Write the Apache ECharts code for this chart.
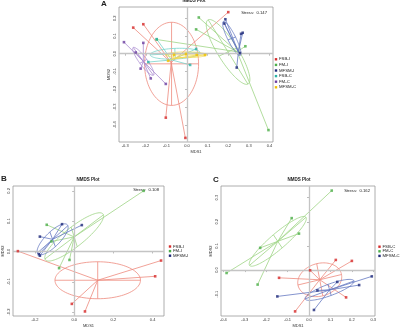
<!DOCTYPE html>
<html><head><meta charset="utf-8">
<script src="https://cdn.jsdelivr.net/npm/echarts@6/dist/echarts.min.js"></script>
<style>html,body{margin:0;padding:0;background:#fff}#c{width:401px;height:329px}</style>
</head><body><div id="c"></div>
<script>
// ---------- Panel A (MDS1, MDS2 scores) ----------
const aFSB_I  = [[-0.261,0.147],[-0.212,0.166],[0.200,0.234],[-0.103,-0.360],[-0.008,-0.474]];
const aFM_I   = [[0.057,0.204],[0.044,0.137],[0.283,0.042],[0.395,-0.430],[-0.147,0.080]];
const aMFSM_I = [[0.186,0.194],[0.181,0.170],[0.270,0.118],[0.257,0.004],[0.241,-0.078],[0.262,0.112]];
const aFSB_C  = [[-0.147,0.082],[-0.188,-0.047],[0.015,-0.063],[0.044,0.027]];
const aFM_C   = [[-0.306,0.065],[-0.249,0.007],[-0.212,0.061],[-0.225,-0.084],[-0.176,-0.139],[-0.103,-0.170]];
const aMFSM_C = [[-0.063,-0.006],[-0.005,-0.002],[0.047,-0.007],[0.087,-0.007],[-0.092,-0.040]];
// spider hubs (group centres)
const aHubFSB_I=[-0.077,-0.050], aHubFM_I=[0.243,0.011], aHubMFSM_I=[0.249,0.010],
      aHubFSB_C=[-0.075,-0.035], aHubFM_C=[-0.212,-0.043], aHubMFSM_C=[-0.070,-0.030];
// ellipse: [centre x, centre y, semi-axis 1, semi-axis 2, angle in degrees]
const aEllFSB_I  = [-0.075,-0.057,0.131,0.234,0];
const aEllFM_I   = [0.199,0.010,0.205,0.050,-62];
const aEllMFSM_I = [0.217,0.086,0.104,0.020,-67];
const aEllFSB_C  = [-0.058,0.000,0.121,0.030,3];
const aEllFM_C   = [-0.212,-0.043,0.092,0.020,-58];
const aEllMFSM_C = [-0.005,-0.006,0.100,0.016,0];
const aXTicks = [-0.3,-0.2,-0.1,0,0.1,0.2,0.3,0.4];
const aYTicks = [-0.4,-0.3,-0.2,-0.1,0,0.1,0.2];
const aStress = 'Stress:  0.147';

// ---------- Panel B ----------
const bFSB_I  = [[-0.287,0.001],[0.443,-0.030],[0.413,-0.082],[-0.012,-0.173],[0.055,-0.198]];
const bFM_I   = [[-0.140,0.088],[-0.024,-0.028],[-0.077,-0.055],[0.354,0.200],[-0.116,0.033]];
const bMFSM_I = [[-0.175,0.049],[-0.180,-0.009],[-0.175,-0.014],[-0.062,0.090],[0.039,0.087]];
const bHubFSB_I=[0.120,-0.095], bHubFM_I=[0.000,0.048], bHubMFSM_I=[-0.110,0.040];
const bEllFSB_I  = [0.120,-0.095,0.218,0.061,0];
const bEllFM_I   = [0.000,0.048,0.166,0.036,26];
const bEllMFSM_I = [-0.110,0.040,0.090,0.028,30];
const bXTicks = [-0.2,0,0.2,0.4];
const bYTicks = [-0.2,-0.1,0,0.1,0.2];
const bStress = 'Stress:  0.108';

// ---------- Panel C ----------
const cFSB_C  = [[-0.140,-0.032],[0.005,-0.001],[0.125,0.042],[0.200,0.038],[0.173,-0.113],[-0.065,-0.171]];
const cFM_C   = [[0.106,0.329],[-0.081,0.215],[-0.047,0.151],[-0.228,0.092],[-0.385,-0.012],[-0.240,-0.060]];
const cMFSM_C = [[-0.148,-0.109],[0.023,-0.165],[0.039,-0.084],[0.132,-0.049],[0.234,-0.062],[0.293,-0.026]];
const cHubFSB_C=[0.050,-0.040], cHubFM_C=[-0.146,0.119], cHubMFSM_C=[0.096,-0.082];
const cEllFSB_C  = [0.050,-0.040,0.104,0.068,12];
const cEllFM_C   = [-0.146,0.119,0.165,0.034,37];
const cEllMFSM_C = [0.096,-0.082,0.120,0.024,18];
const cXTicks = [-0.4,-0.3,-0.2,-0.1,0,0.1,0.2,0.3];
const cYTicks = [-0.1,0,0.1,0.2,0.3];
const cStress = 'Stress:  0.162';

// colours
const RED={pt:'#D62B2B',ln:'#EE8A7E'}, GRN={pt:'#4DAF4A',ln:'#9ED485'}, NAVY={pt:'#1F2A7A',ln:'#6478C2'},
      TEAL={pt:'#2AB3A6',ln:'#76D3CA'}, PURP={pt:'#6B3FA0',ln:'#A98BD0'}, YEL={pt:'#EFC000',ln:'#F3D955'};

const panels = [
  {grid:{left:119,top:7,width:154,height:135}, xr:[-0.33,0.417], yr:[-0.497,0.263], xt:aXTicks, yt:aYTicks,
   groups:[
    {name:'FSB-I',pts:aFSB_I,hub:aHubFSB_I,ell:aEllFSB_I,c:RED},
    {name:'FM-I',pts:aFM_I,hub:aHubFM_I,ell:aEllFM_I,c:GRN},
    {name:'MFSM-I',pts:aMFSM_I,hub:aHubMFSM_I,ell:aEllMFSM_I,c:NAVY},
    {name:'FSB-C',pts:aFSB_C,hub:aHubFSB_C,ell:aEllFSB_C,c:TEAL},
    {name:'FM-C',pts:aFM_C,hub:aHubFM_C,ell:aEllFM_C,c:PURP},
    {name:'MFSM-C',pts:aMFSM_C,hub:aHubMFSM_C,ell:aEllMFSM_C,c:YEL}]},
  {grid:{left:11,top:186,width:153,height:133}, xr:[-0.312,0.458], yr:[-0.213,0.216], xt:bXTicks, yt:bYTicks,
   groups:[
    {name:'FSB-I',pts:bFSB_I,hub:bHubFSB_I,ell:bEllFSB_I,c:RED},
    {name:'FM-I',pts:bFM_I,hub:bHubFM_I,ell:bEllFM_I,c:GRN},
    {name:'MFSM-I',pts:bMFSM_I,hub:bHubMFSM_I,ell:bEllMFSM_I,c:NAVY}]},
  {grid:{left:221,top:186,width:154,height:133}, xr:[-0.411,0.308], yr:[-0.190,0.348], xt:cXTicks, yt:cYTicks,
   groups:[
    {name:'FSB-C',pts:cFSB_C,hub:cHubFSB_C,ell:cEllFSB_C,c:RED},
    {name:'FM-C',pts:cFM_C,hub:cHubFM_C,ell:cEllFM_C,c:GRN},
    {name:'MFSM-C',pts:cMFSM_C,hub:cHubMFSM_C,ell:cEllMFSM_C,c:NAVY}]}
];

const fmt = v => (Math.abs(v)<1e-9?0:v).toFixed(1);
const txt = '#333';

const grids=[],xAxes=[],yAxes=[],series=[];
panels.forEach((P,gi)=>{
  grids.push(Object.assign({show:true,borderColor:'#9a9a9a',borderWidth:0.8,backgroundColor:'transparent'},P.grid));
  xAxes.push({gridIndex:gi,type:'value',min:P.xr[0],max:P.xr[1],
    axisLine:{show:false},splitLine:{show:false},
    axisTick:{show:true,length:2,inside:false,lineStyle:{color:'#777',width:0.5},customValues:P.xt},
    axisLabel:{customValues:P.xt,fontSize:4,color:txt,margin:2,formatter:fmt},
    name:'MDS1',nameLocation:'middle',nameGap:8,nameTextStyle:{fontSize:4,color:txt}});
  yAxes.push({gridIndex:gi,type:'value',min:P.yr[0],max:P.yr[1],
    axisLine:{show:false},splitLine:{show:false},
    axisTick:{show:true,length:2,inside:false,lineStyle:{color:'#777',width:0.5},customValues:P.yt},
    axisLabel:{customValues:P.yt,fontSize:4,color:txt,margin:2,rotate:90,formatter:fmt},
    name:'MDS2',nameLocation:'middle',nameGap:8,nameRotate:90,nameTextStyle:{fontSize:4,color:txt}});
  // zero reference lines
  series.push({type:'scatter',xAxisIndex:gi,yAxisIndex:gi,data:[],silent:true,
    markLine:{silent:true,symbol:'none',animation:false,label:{show:false},
      lineStyle:{color:'#c4c4c4',width:1.3,type:'solid'},data:[{xAxis:0},{yAxis:0}]}});
  P.groups.forEach(g=>{
    const h=g.hub;
    series.push({type:'custom',name:g.name,xAxisIndex:gi,yAxisIndex:gi,silent:true,z:3,animation:false,
      data:[h],encode:{x:0,y:1},
      renderItem:(params,api)=>{
        const cp=api.coord(h);
        const ch=[];
        const st={stroke:g.c.ln,lineWidth:0.8,fill:null};
        g.pts.forEach(p=>{const q=api.coord(p);
          ch.push({type:'line',shape:{x1:cp[0],y1:cp[1],x2:q[0],y2:q[1]},style:st});});
        const [ex,ey,a,b,deg]=g.ell, th=deg*Math.PI/180, ct=Math.cos(th), s=Math.sin(th);
        const poly=[];
        for(let k=0;k<=96;k++){const t=k/96*2*Math.PI;
          poly.push(api.coord([ex+a*Math.cos(t)*ct-b*Math.sin(t)*s, ey+a*Math.cos(t)*s+b*Math.sin(t)*ct]));}
        ch.push({type:'polyline',shape:{points:poly},style:st});
        const e1=api.coord([ex+a*ct,ey+a*s]), e2=api.coord([ex-a*ct,ey-a*s]);
        const f1=api.coord([ex-b*s,ey+b*ct]), f2=api.coord([ex+b*s,ey-b*ct]);
        ch.push({type:'line',shape:{x1:e1[0],y1:e1[1],x2:e2[0],y2:e2[1]},style:st});
        ch.push({type:'line',shape:{x1:f1[0],y1:f1[1],x2:f2[0],y2:f2[1]},style:st});
        return {type:'group',children:ch};
      }});
    series.push({type:'scatter',name:g.name,xAxisIndex:gi,yAxisIndex:gi,data:g.pts,z:5,animation:false,
      symbol:'rect',symbolSize:2.6,itemStyle:{color:g.c.pt}});
  });
});

// texts: panel letters, titles, stress, legends
const gr=[];
function T(x,y,text,size,opt){gr.push({type:'text',x,y,silent:true,style:{text,fill:'#222',font:(opt&&opt.bold?'bold ':'')+size+'px Arial, "Liberation Sans", sans-serif',align:(opt&&opt.align)||'left',verticalAlign:'middle'}});}
T(101,4,'A',8,{bold:1}); T(1,179,'B',8,{bold:1}); T(213,180,'C',8,{bold:1});
T(194,1,'NMDS Plot',4.5,{bold:1,align:'center'});
T(88,179.5,'NMDS Plot',4.5,{bold:1,align:'center'});
T(299,180,'NMDS Plot',4.5,{bold:1,align:'center'});
T(267,13,aStress,4.2,{align:'right'});
T(159,190,bStress,4.2,{align:'right'});
T(370,190.5,cStress,4.2,{align:'right'});
function legend(x,y0,dy,groups){groups.forEach((g,i)=>{const y=y0+i*dy;
  gr.push({type:'rect',silent:true,shape:{x:x-1.2,y:y-1.2,width:2.4,height:2.4},style:{fill:g.c.pt}});
  T(x+3,y,g.name,4.3);});}
legend(276,59.3,5.6,panels[0].groups);
legend(170,246.5,4.6,panels[1].groups);
legend(379.5,246.7,4.6,panels[2].groups);

const chart=echarts.init(document.getElementById('c'),null,{renderer:'canvas'});
chart.setOption({animation:false,grid:grids,xAxis:xAxes,yAxis:yAxes,series,graphic:gr});
</script></body></html>
